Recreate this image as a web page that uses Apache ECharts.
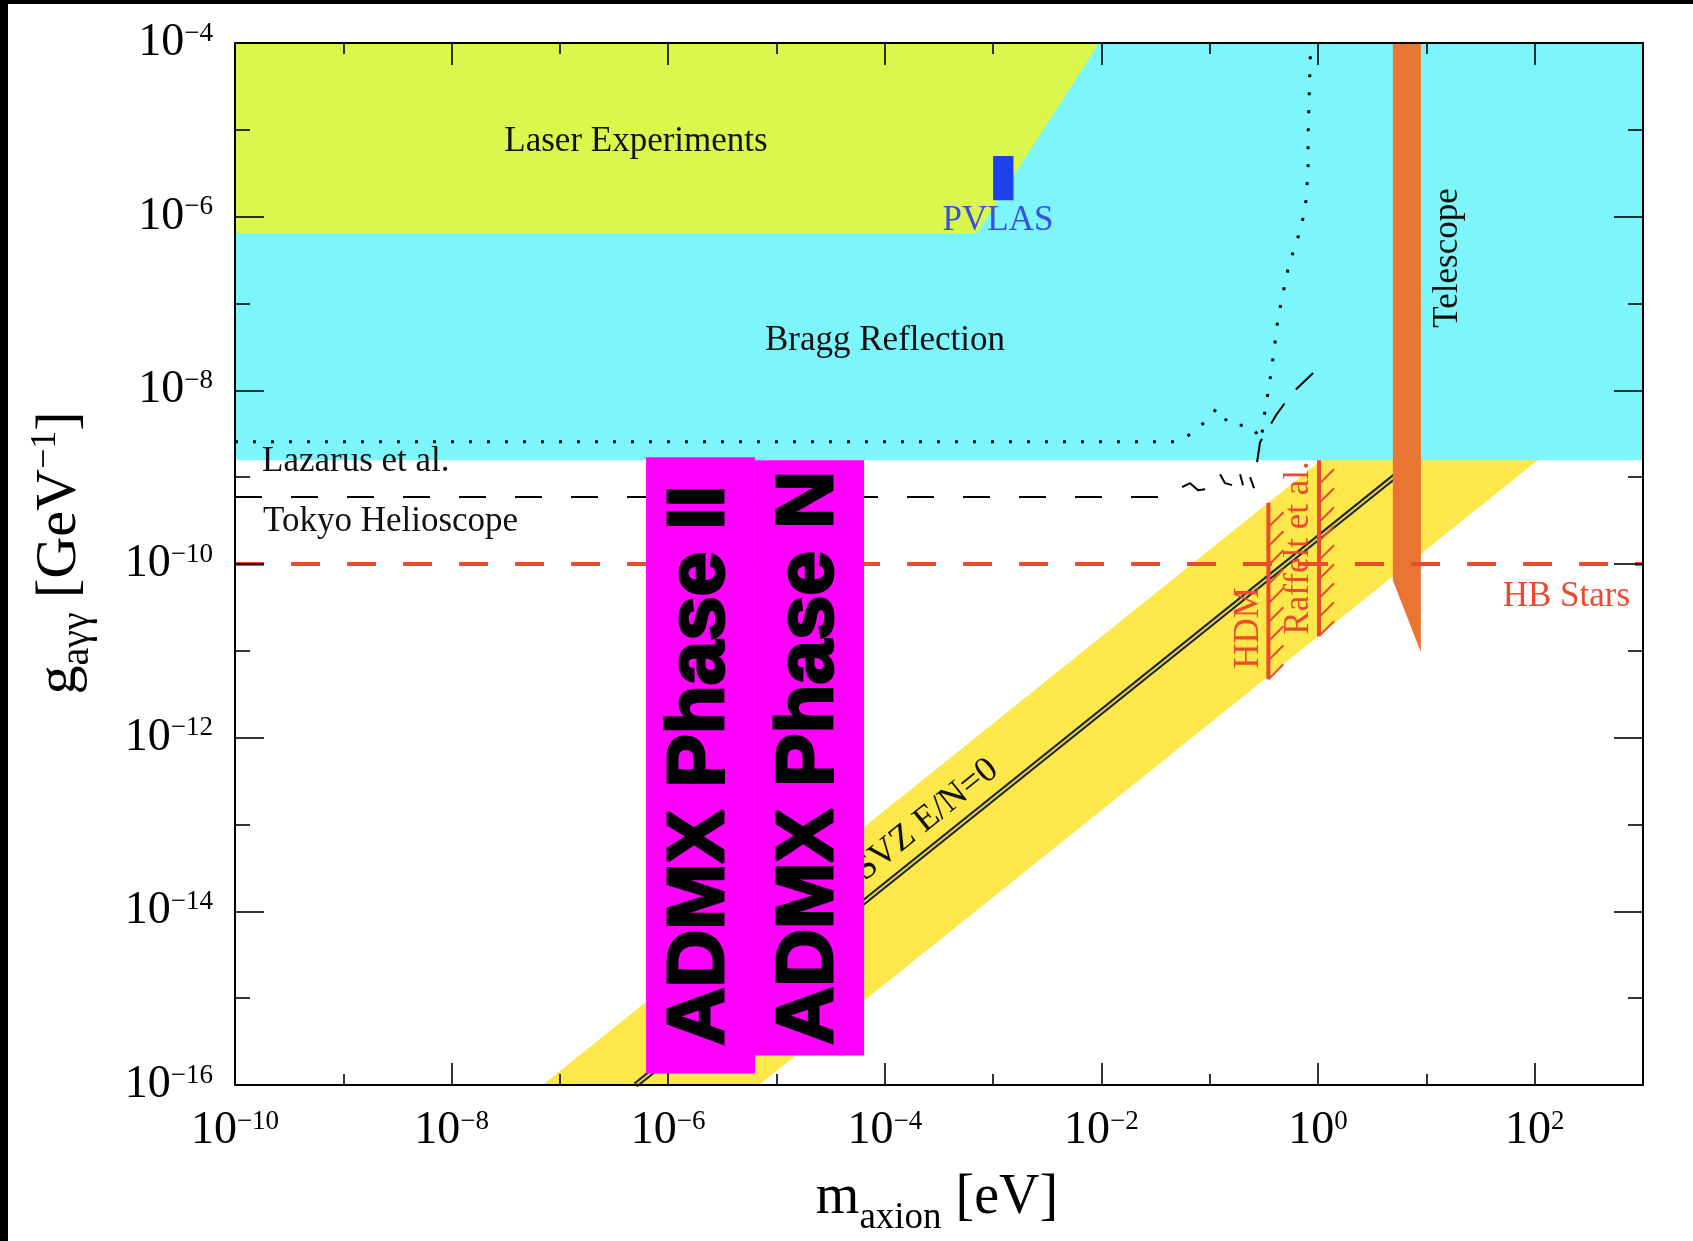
<!DOCTYPE html>
<html>
<head>
<meta charset="utf-8">
<title>Axion exclusion plot</title>
<script src="https://cdn.jsdelivr.net/npm/echarts@6.0.0/dist/echarts.min.js"></script>
<style>
html,body{margin:0;padding:0;background:#ffffff;}
#chart{width:1693px;height:1241px;}
</style>
</head>
<body>
<div id="chart"></div>
<script>
// ===== DATA (axion mass in eV, coupling g in GeV^-1) =====
const xTickPowers = [-10, -8, -6, -4, -2, 0, 2];
const yTickPowers = [-16, -14, -12, -10, -8, -6, -4];
const xRange = [1e-10, 1e3];
const yRange = [1e-16, 1e-4];

const laserM = [1e-10, 9.5e-3, 7.1e-4, 1e-10];
const laserG = [1e-4, 1e-4, 6.5e-7, 6.5e-7];

const braggM = [1e-10, 1e3, 1e3, 1e-10];
const braggG = [1e-4, 1e-4, 1.57e-9, 1.57e-9];

const pvlasM = [1.0e-3, 1.54e-3, 1.54e-3, 1.0e-3];
const pvlasG = [5.0e-6, 5.0e-6, 1.55e-6, 1.55e-6];

const bandM = [6.9e-8, 1.09, 108.6, 6.9e-6];
const bandG = [1e-16, 1.6e-9, 1.6e-9, 1e-16];

const ksvzM = [5.0e-7, 7.9];
const ksvzG = [1e-16, 1.58e-9];

const telescopeM = [4.9, 8.9, 8.9, 4.9];
const telescopeG = [1e-4, 1e-4, 9.6e-12, 6.5e-11];

const hbM = [1e-10, 1e3];
const hbG = [1e-10, 1e-10];

const tokyoM = [1e-10, 0.0334];
const tokyoG = [5.9e-10, 5.9e-10];
const tokyoWiggles = [
  { m: [0.0555, 0.0658, 0.0780, 0.0906], g: [7.67e-10, 8.53e-10, 7.08e-10, 7.28e-10] },
  { m: [0.1245, 0.1384, 0.1607], g: [1.08e-9, 8.53e-10, 8.09e-10] },
  { m: [0.1905, 0.2028], g: [1.08e-9, 8.09e-10] },
  { m: [0.2355, 0.2564], g: [1.0e-9, 7.46e-10] }
];
const tokyoRiseM = [0.2735, 0.2911, 0.4093, 0.5754, 0.9795];
const tokyoRiseG = [1.49e-9, 2.53e-9, 5.18e-9, 9.29e-9, 1.75e-8];

const lazarusM = [1e-10, 0.0499, 0.0687, 0.0944, 0.1167, 0.1538, 0.2118, 0.2512, 0.2979, 0.3243,
  0.3565, 0.3926, 0.4276, 0.4753, 0.5176, 0.5754, 0.6531, 0.7261, 0.7745, 0.8091, 0.8091, 0.8260, 0.8551];
const lazarusG = [2.55e-9, 2.55e-9, 3.21e-9, 4.54e-9, 6.24e-9, 3.97e-9, 3.97e-9, 3.67e-9, 2.67e-9, 5.92e-9,
  1.21e-8, 2.90e-8, 6.97e-8, 1.32e-7, 2.24e-7, 3.61e-7, 5.82e-7, 9.64e-7, 1.55e-6, 3.72e-6, 9.18e-6, 2.20e-5, 1e-4];

const hdmM = 0.348;
const hdmG = [5.06e-10, 4.71e-12];
const raffeltM = 1.02;
const raffeltG = [1.57e-9, 1.47e-11];

const admxIIM = [6.24e-7, 6.32e-6];
const admxIIG = [1.36e-16, 1.70e-9];
const admxNM = [6.32e-6, 6.43e-5];
const admxNG = [2.19e-16, 1.57e-9];

const labelTexts = {
  laser: 'Laser Experiments', bragg: 'Bragg Reflection', pvlas: 'PVLAS', lazarus: 'Lazarus et al.',
  tokyo: 'Tokyo Helioscope', hb: 'HB Stars', telescope: 'Telescope', hdm: 'HDM', raffelt: 'Raffelt et al.',
  ksvz: 'KSVZ E/N=0', admxII: 'ADMX Phase II', admxN: 'ADMX Phase N'
};

// ===== helpers =====
const L = Math.log10;
const SERIF = '"Liberation Serif", "Times New Roman", serif';
const RED = '#E84B2E';
const pts = (M, G) => M.map((m, i) => [L(m), L(G[i])]);

function polyS(M, G, fill, z) {
  return {
    type: 'custom', z, silent: true, animation: false,
    data: [[L(M[0]), L(G[0])]],
    renderItem: (p, api) => ({
      type: 'polygon',
      shape: { points: M.map((m, i) => api.coord([L(m), L(G[i])])) },
      style: { fill }
    })
  };
}
function lineS(M, G, lineStyle, z) {
  return { type: 'line', data: pts(M, G), symbol: 'none', showSymbol: false, lineStyle, z,
    silent: true, animation: false };
}
function limitS(m, G, z) {
  return {
    type: 'custom', z, silent: true, animation: false,
    data: [[L(m), L(G[0])]],
    renderItem: (p, api) => {
      const top = api.coord([L(m), L(G[0])]);
      const bot = api.coord([L(m), L(G[1])]);
      const ch = [{ type: 'line', shape: { x1: top[0], y1: top[1], x2: bot[0], y2: bot[1] },
        style: { stroke: RED, lineWidth: 4 } }];
      for (let y = bot[1]; y - 15 >= top[1] - 3; y -= 19) {
        ch.push({ type: 'line', shape: { x1: top[0], y1: y, x2: top[0] + 15, y2: y - 15 },
          style: { stroke: RED, lineWidth: 2 } });
      }
      return { type: 'group', children: ch };
    }
  };
}
function boxS(M, G, text, z) {
  return {
    type: 'custom', z, silent: true, animation: false,
    data: [[L(M[0]), L(G[0])]],
    renderItem: (p, api) => {
      const a = api.coord([L(M[0]), L(G[1])]);
      const b = api.coord([L(M[1]), L(G[0])]);
      return { type: 'group', children: [
        { type: 'rect', shape: { x: a[0], y: a[1], width: b[0] - a[0], height: b[1] - a[1] },
          style: { fill: '#FF00FF' } },
        { type: 'text', x: (a[0] + b[0]) / 2, y: (a[1] + b[1]) / 2, rotation: Math.PI / 2,
          style: { text, fill: '#000', stroke: '#000', lineWidth: 3, lineJoin: 'round',
            font: 'bold 80px "Liberation Sans", Arial, sans-serif',
            align: 'center', verticalAlign: 'middle', textAlign: 'center', textVerticalAlign: 'middle' } }
      ] };
    }
  };
}
function txt(text, x, y, o) {
  o = o || {};
  const al = o.align || 'center';
  return { type: 'text', x, y, rotation: o.rot || 0, z: o.z || 9, silent: true,
    style: { text, fill: o.color || '#111', font: (o.size || 35) + 'px ' + SERIF,
      align: al, textAlign: al, verticalAlign: 'middle', textVerticalAlign: 'middle' } };
}
const mctx = document.createElement('canvas').getContext('2d');
function measure(t, f) { mctx.font = f + 'px ' + SERIF; return mctx.measureText(t).width; }
function hTitle(pieces, cx, baseY) {
  const total = pieces.reduce((s, p) => s + measure(p.t, p.f), 0);
  let x = cx - total / 2; const els = [];
  pieces.forEach(p => {
    els.push({ type: 'text', x, y: baseY + p.d - 0.3375 * p.f, z: 9, silent: true,
      style: { text: p.t, fill: '#000', font: p.f + 'px ' + SERIF, align: 'left', textAlign: 'left',
        verticalAlign: 'middle', textVerticalAlign: 'middle' } });
    x += measure(p.t, p.f);
  });
  return els;
}
function vTitle(pieces, cy, baseX) {
  const total = pieces.reduce((s, p) => s + measure(p.t, p.f), 0);
  let y = cy + total / 2; const els = [];
  pieces.forEach(p => {
    els.push({ type: 'text', x: baseX + p.d - 0.3375 * p.f, y, rotation: Math.PI / 2, z: 9, silent: true,
      style: { text: p.t, fill: '#000', font: p.f + 'px ' + SERIF, align: 'left', textAlign: 'left',
        verticalAlign: 'middle', textVerticalAlign: 'middle' } });
    y -= measure(p.t, p.f);
  });
  return els;
}
const sup = v => (v < 0 ? '\u2212' + (-v) : String(v));
const tickRich = {
  b: { fontSize: 46, fontFamily: SERIF, color: '#000' },
  s: { fontSize: 27, fontFamily: SERIF, color: '#000', verticalAlign: 'top' }
};
function axisCommon(isX, pos, showLabel) {
  const ax = {
    type: 'value', position: pos, z: 10,
    min: L(isX ? xRange[0] : yRange[0]), max: L(isX ? xRange[1] : yRange[1]), interval: 2,
    axisLine: { show: true, onZero: false, lineStyle: { color: '#000', width: 2 } },
    axisTick: { show: true, inside: true, length: isX ? 22 : 29, lineStyle: { color: '#000', width: 1.6 } },
    minorTick: { show: true, splitNumber: 2, length: isX ? 11 : 15, lineStyle: { color: '#000', width: 1.6 } },
    splitLine: { show: false }, minorSplitLine: { show: false },
    axisLabel: { show: showLabel }
  };
  if (showLabel) {
    const list = isX ? xTickPowers : yTickPowers;
    ax.axisLabel = { show: true, margin: isX ? 23 : 22, rich: tickRich,
      formatter: v => (list.indexOf(Math.round(v)) >= 0 && Math.abs(v - Math.round(v)) < 1e-9)
        ? '{b|10}{s|' + sup(Math.round(v)) + '}' : '' };
  }
  return ax;
}

const series = [
  polyS(bandM, bandG, '#FDE84B', 1),
  lineS(ksvzM, ksvzG, { color: '#222', width: 6 }, 2),
  lineS(ksvzM, ksvzG, { color: '#D9D36A', width: 2 }, 2),
  polyS(braggM, braggG, '#7CF6FA', 3),
  polyS(laserM, laserG, '#D9F84B', 4),
  polyS(pvlasM, pvlasG, '#2040EE', 5),
  polyS(telescopeM, telescopeG, '#E87532', 6),
  limitS(hdmM, hdmG, 6),
  limitS(raffeltM, raffeltG, 6),
  lineS(lazarusM, lazarusG, { color: '#000', width: 3, type: [3, 15] }, 7),
  lineS(tokyoM, tokyoG, { color: '#000', width: 2, type: [27, 29] }, 7),
  lineS(tokyoRiseM, tokyoRiseG, { color: '#000', width: 2, type: [24, 18] }, 7),
  lineS(hbM, hbG, { color: RED, width: 4, type: [29, 27] }, 8),
  boxS(admxIIM, admxIIG, labelTexts.admxII, 11),
  boxS(admxNM, admxNG, labelTexts.admxN, 11)
];
tokyoWiggles.forEach(w => series.push(lineS(w.m, w.g, { color: '#000', width: 2 }, 7)));

const graphic = [
  txt(labelTexts.laser, 636, 142),
  txt(labelTexts.bragg, 885, 341),
  txt(labelTexts.pvlas, 998, 221, { color: '#3A50E0' }),
  txt(labelTexts.lazarus, 262, 462, { align: 'left' }),
  txt(labelTexts.tokyo, 263, 522, { align: 'left' }),
  txt(labelTexts.hb, 1630, 597, { align: 'right', color: RED }),
  txt(labelTexts.telescope, 1448, 258, { rot: Math.PI / 2 }),
  txt(labelTexts.hdm, 1249, 628, { rot: Math.PI / 2, color: RED }),
  txt(labelTexts.raffelt, 1299, 548, { rot: Math.PI / 2, color: RED }),
  txt(labelTexts.ksvz, 916, 828, { rot: 0.675, size: 36 }),
  ...hTitle([{ t: 'm', f: 56, d: 0 }, { t: 'axion', f: 37, d: 14 }, { t: ' [eV]', f: 56, d: 0 }], 937, 1217),
  ...vTitle([{ t: 'g', f: 58, d: 0 }, { t: 'a\u03B3\u03B3', f: 40, d: 12 },
    { t: ' [GeV', f: 58, d: 0 }, { t: '\u22121', f: 36, d: -21 }, { t: ']', f: 58, d: 0 }], 553, 79),
  { type: 'rect', z: 20, silent: true, shape: { x: 0, y: 0, width: 8, height: 1241 }, style: { fill: '#000' } },
  { type: 'rect', z: 20, silent: true, shape: { x: 0, y: 0, width: 1693, height: 4 }, style: { fill: '#000' } }
];

const chart = echarts.init(document.getElementById('chart'), null, { renderer: 'canvas' });
chart.setOption({
  backgroundColor: '#ffffff',
  animation: false,
  grid: { left: 235, top: 43, width: 1408, height: 1042, containLabel: false, outerBoundsMode: 'none' },
  xAxis: [axisCommon(true, 'bottom', true), axisCommon(true, 'top', false)],
  yAxis: [axisCommon(false, 'left', true), axisCommon(false, 'right', false)],
  series,
  graphic
});
</script>
</body>
</html>
